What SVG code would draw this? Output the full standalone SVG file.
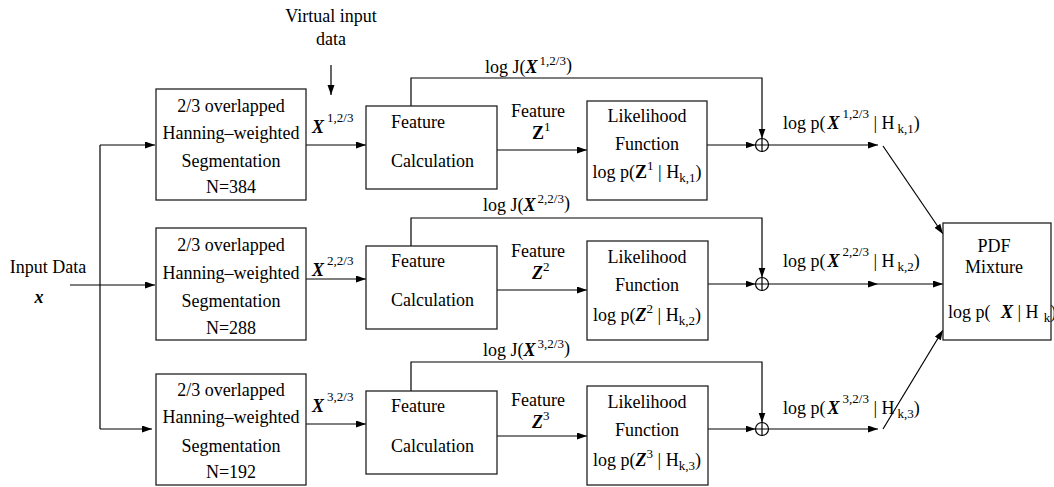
<svg xmlns="http://www.w3.org/2000/svg" width="1054" height="487" viewBox="0 0 1054 487">
<defs>
<marker id="ah" markerUnits="userSpaceOnUse" markerWidth="11" markerHeight="8" refX="10" refY="3.5" orient="auto">
<path d="M0,0 L10,3.5 L0,7 z" fill="#000"/>
</marker>
<style>
text{font-family:"Liberation Serif","Times New Roman",serif;font-size:18px;fill:#000}
.box{fill:#fff;stroke:#222;stroke-width:1.3}
.c{text-anchor:middle}
.bi{font-weight:bold;font-style:italic}
.b{font-weight:bold}
.s{font-size:13px}
.ln{fill:none;stroke:#000;stroke-width:1.2}
.ar{fill:none;stroke:#000;stroke-width:1.2;marker-end:url(#ah)}
</style>
</defs>
<rect width="1054" height="487" fill="#fff"/>

<g id="connectors">
<path class="ar" d="M70,285 H155"/>
<path class="ln" d="M100,145 V429"/>
<path class="ar" d="M100,145 H155"/>
<path class="ar" d="M100,429 H152"/>
<path class="ar" d="M331,65 V95"/>
<path class="ar" d="M306,145 H366"/>
<path class="ar" d="M306,279 H366"/>
<path class="ar" d="M306,424 H366"/>
<path class="ar" d="M497,150 H587"/>
<path class="ar" d="M497,290 H587"/>
<path class="ar" d="M497,436 H587"/>
<path class="ar" d="M411,106 V78 H762 V138.5"/>
<path class="ar" d="M411,246 V218 H762 V277.5"/>
<path class="ar" d="M411,391 V362 H762 V422.5"/>
<path class="ar" d="M707,145 H755.5"/>
<path class="ar" d="M708,284 H755.5"/>
<path class="ar" d="M708,429 H755.5"/>
<path class="ar" d="M768.5,145 H878"/>
<path class="ar" d="M768.5,284 H878"/>
<path class="ar" d="M768.5,429 H878"/>
<path class="ar" d="M878,284 H943"/>
<path class="ar" d="M883,146 L943,234"/>
<path class="ar" d="M883,429 L943,330"/>
</g>

<g id="sum1"><circle cx="762" cy="145" r="6.5" fill="#fff" stroke="#000" stroke-width="1.2"/><path class="ln" d="M755.5,145 H768.5 M762,138.5 V151.5"/></g>
<g id="sum2"><circle cx="762" cy="284" r="6.5" fill="#fff" stroke="#000" stroke-width="1.2"/><path class="ln" d="M755.5,284 H768.5 M762,277.5 V290.5"/></g>
<g id="sum3"><circle cx="762" cy="429" r="6.5" fill="#fff" stroke="#000" stroke-width="1.2"/><path class="ln" d="M755.5,429 H768.5 M762,422.5 V435.5"/></g>

<g id="input">
<text x="48" y="273" class="c">Input Data</text>
<text x="39" y="303" class="c bi">x</text>
</g>
<g id="virtual">
<text x="331" y="22" class="c">Virtual input</text>
<text x="331" y="45" class="c">data</text>
</g>

<g id="seg1">
<rect class="box" x="156" y="89" width="150" height="111"/>
<text x="231" y="112" class="c">2/3 overlapped</text>
<text x="231" y="139" class="c">Hanning–weighted</text>
<text x="231" y="167" class="c">Segmentation</text>
<text x="231" y="193" class="c">N=384</text>
</g>
<g id="seg2">
<rect class="box" x="156" y="228" width="150" height="112"/>
<text x="231" y="251" class="c">2/3 overlapped</text>
<text x="231" y="279" class="c">Hanning–weighted</text>
<text x="231" y="307" class="c">Segmentation</text>
<text x="231" y="334" class="c">N=288</text>
</g>
<g id="seg3">
<rect class="box" x="156" y="374" width="150" height="111"/>
<text x="231" y="396" class="c">2/3 overlapped</text>
<text x="231" y="423" class="c">Hanning–weighted</text>
<text x="231" y="452" class="c">Segmentation</text>
<text x="231" y="478" class="c">N=192</text>
</g>

<g id="xlabels">
<text x="312" y="133"><tspan class="bi">X</tspan><tspan class="s" dx="3" dy="-11">1,2/3</tspan></text>
<text x="312" y="276"><tspan class="bi">X</tspan><tspan class="s" dx="3" dy="-11">2,2/3</tspan></text>
<text x="312" y="412"><tspan class="bi">X</tspan><tspan class="s" dx="3" dy="-11">3,2/3</tspan></text>
</g>

<g id="feat1">
<rect class="box" x="366" y="106" width="131" height="83"/>
<text x="391" y="128">Feature</text>
<text x="391" y="167">Calculation</text>
</g>
<g id="feat2">
<rect class="box" x="366" y="246" width="131" height="83"/>
<text x="391" y="267">Feature</text>
<text x="391" y="306">Calculation</text>
</g>
<g id="feat3">
<rect class="box" x="366" y="391" width="131" height="83"/>
<text x="391" y="412">Feature</text>
<text x="391" y="452">Calculation</text>
</g>

<g id="jlabels">
<text x="485" y="73">log J(<tspan class="bi">X</tspan><tspan class="s" dx="2" dy="-8">1,2/3</tspan><tspan dy="6">)</tspan></text>
<text x="483" y="211">log J(<tspan class="bi">X</tspan><tspan class="s" dx="2" dy="-8">2,2/3</tspan><tspan dy="6">)</tspan></text>
<text x="483" y="356">log J(<tspan class="bi">X</tspan><tspan class="s" dx="2" dy="-8">3,2/3</tspan><tspan dy="6">)</tspan></text>
</g>

<g id="zlabels">
<text x="538" y="117" class="c">Feature</text>
<text x="532" y="139"><tspan class="b">Z</tspan><tspan class="s" dy="-8">1</tspan></text>
<text x="538" y="257" class="c">Feature</text>
<text x="532" y="279"><tspan class="bi">Z</tspan><tspan class="s" dy="-8">2</tspan></text>
<text x="538" y="406" class="c">Feature</text>
<text x="532" y="428"><tspan class="bi">Z</tspan><tspan class="s" dy="-8">3</tspan></text>
</g>

<g id="lik1">
<rect class="box" x="587" y="101" width="120" height="99"/>
<text x="647" y="122" class="c">Likelihood</text>
<text x="647" y="150" class="c">Function</text>
<text x="647" y="178" class="c">log p(<tspan class="b">Z</tspan><tspan class="s" dy="-8">1</tspan><tspan dy="8"> | H</tspan><tspan class="s" dy="4">k,1</tspan><tspan dy="-4">)</tspan></text>
</g>
<g id="lik2">
<rect class="box" x="587" y="241" width="121" height="99"/>
<text x="647" y="263" class="c">Likelihood</text>
<text x="647" y="291" class="c">Function</text>
<text x="647" y="321" class="c">log p(<tspan class="bi">Z</tspan><tspan class="s" dy="-8">2</tspan><tspan dy="8"> | H</tspan><tspan class="s" dy="4">k,2</tspan><tspan dy="-4">)</tspan></text>
</g>
<g id="lik3">
<rect class="box" x="587" y="386" width="121" height="99"/>
<text x="647" y="408" class="c">Likelihood</text>
<text x="647" y="436" class="c">Function</text>
<text x="647" y="466" class="c">log p(<tspan class="bi">Z</tspan><tspan class="s" dy="-8">3</tspan><tspan dy="8"> | H</tspan><tspan class="s" dy="4">k,3</tspan><tspan dy="-4">)</tspan></text>
</g>

<g id="plabels">
<text x="783" y="129">log p(<tspan class="bi" dx="2">X</tspan><tspan class="s" dx="3" dy="-11">1,2/3</tspan><tspan dy="11"> | H</tspan><tspan class="s" dx="3" dy="4">k,1</tspan><tspan dy="-4">)</tspan></text>
<text x="783" y="267">log p(<tspan class="bi" dx="2">X</tspan><tspan class="s" dx="3" dy="-11">2,2/3</tspan><tspan dy="11"> | H</tspan><tspan class="s" dx="3" dy="4">k,2</tspan><tspan dy="-4">)</tspan></text>
<text x="783" y="414">log p(<tspan class="bi" dx="2">X</tspan><tspan class="s" dx="3" dy="-11">3,2/3</tspan><tspan dy="11"> | H</tspan><tspan class="s" dx="3" dy="4">k,3</tspan><tspan dy="-4">)</tspan></text>
</g>

<g id="pdf">
<rect class="box" x="943" y="223" width="108" height="117"/>
<text x="994" y="252" class="c">PDF</text>
<text x="994" y="273" class="c">Mixture</text>
<text x="948" y="318">log p( <tspan class="bi" dx="6">X</tspan> | H<tspan class="s" dx="5" dy="4">k</tspan><tspan dy="-4">)</tspan></text>
</g>
</svg>
